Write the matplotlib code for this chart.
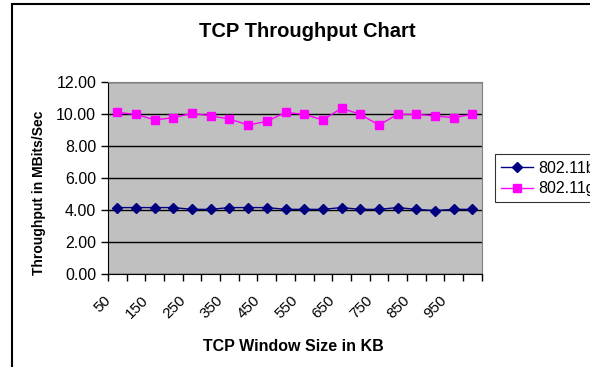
import matplotlib
matplotlib.use('Agg')
import matplotlib.pyplot as plt
from matplotlib.patches import Rectangle
from matplotlib.transforms import ScaledTranslation
import numpy as np

plt.rcParams['font.family'] = ['Liberation Sans', 'DejaVu Sans']

# window sizes in KB
window_kb = list(range(50, 1001, 50))
tick_labels = [str(w) for w in window_kb[::2]]

# throughput in MBits/Sec
tput_b = [4.17, 4.17, 4.17, 4.17, 4.06, 4.06, 4.17, 4.17, 4.17, 4.06,
          4.06, 4.06, 4.17, 4.06, 4.06, 4.17, 4.06, 3.98, 4.06, 4.06]
tput_g = [10.12, 10.00, 9.65, 9.79, 10.06, 9.90, 9.71, 9.33, 9.56, 10.12,
          10.00, 9.65, 10.38, 10.00, 9.33, 10.00, 10.00, 9.90, 9.79, 10.00]

fig = plt.figure(figsize=(5.9, 3.67), dpi=100)
ax = fig.add_axes([0.1831, 0.2526, 0.6333, 0.5231])
ax.set_facecolor('#c0c0c0')

x = np.arange(len(window_kb))
ax.plot(x, tput_b, color='#000080', marker='D', markersize=5.5, lw=1, label='802.11b')
ax.plot(x, tput_g, color='#ff00ff', marker='s', markersize=6, lw=1, label='802.11g')

ax.set_ylim(0, 12)
ax.set_yticks(np.arange(0, 12.1, 2))
ax.set_yticklabels(['%.2f' % v for v in np.arange(0, 12.1, 2)], fontsize=11.5)
ax.grid(axis='y', color='black', lw=1)
ax.set_axisbelow(True)

ax.set_xlim(-0.5, len(window_kb) - 0.5)
ax.set_xticks(np.arange(-0.5, len(window_kb), 1))
ax.set_xticklabels([])
ax.set_xticks(x[::2], minor=True)
ax.set_xticklabels(tick_labels, minor=True, rotation=45, ha='right', va='center',
                   rotation_mode='anchor', fontsize=11)
ax.tick_params(axis='x', which='minor', length=0, pad=12)
ax.tick_params(axis='both', which='major', length=5, width=1, color='black')
shift = ScaledTranslation(-0.09, -0.07, fig.dpi_scale_trans)
for lbl in ax.get_xticklabels(minor=True):
    lbl.set_transform(lbl.get_transform() + shift)

for s in ['top', 'right']:
    ax.spines[s].set_color('#808080')
for s in ['left', 'bottom']:
    ax.spines[s].set_color('black')

ax.set_ylabel('Throughput in MBits/Sec', fontsize=10, fontweight='bold')
ax.yaxis.set_label_coords(-0.165, 0.423)
ax.set_xlabel('TCP Window Size in KB', fontsize=11.5, fontweight='bold')
ax.xaxis.set_label_coords(0.497, -0.335)
fig.text(0.52, 0.915, 'TCP Throughput Chart', fontsize=14.5, fontweight='bold',
         ha='center', va='center')

leg = ax.legend(loc='center left', bbox_to_anchor=(1.035, 0.5), fontsize=11.5,
                frameon=True, fancybox=False, edgecolor='black', handlelength=2.0,
                borderaxespad=0, labelspacing=0.35, handletextpad=0.3)
leg.get_frame().set_linewidth(0.8)

# outer chart frame (extends past the right and bottom edges)
fig.patches.append(Rectangle((12 / 590, -0.1), 1.2, 1 - 4.5 / 367 + 0.1,
                             transform=fig.transFigure, fill=False,
                             edgecolor='black', lw=1.5, clip_on=False))

fig.savefig('out.png', dpi=100)
